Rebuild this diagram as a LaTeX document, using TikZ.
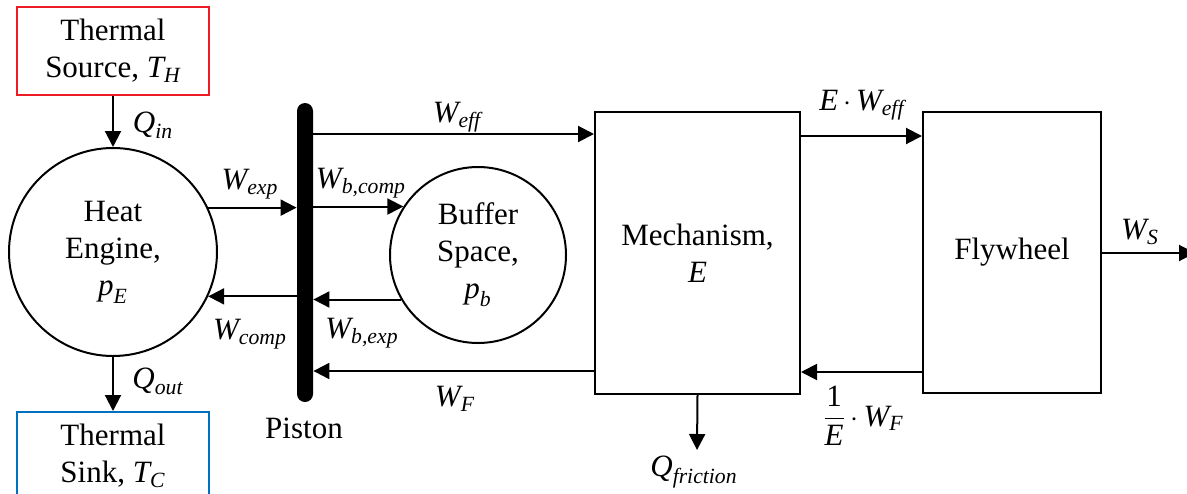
\documentclass[tikz,border=0pt]{standalone}
\usepackage{amsmath}
\usepackage{fontspec}
\setmainfont{Liberation Serif}
\usetikzlibrary{arrows.meta,calc}
\definecolor{srcred}{RGB}{237,28,36}
\definecolor{sinkblue}{RGB}{0,112,192}
\newcommand{\mi}[1]{\textit{#1}}
\begin{document}
\begin{tikzpicture}[x=0.5pt,y=-0.5pt, font=\rmfamily\fontsize{15.5}{18.5}\selectfont,
  box/.style={draw, line width=1pt, inner sep=0pt, align=center},
  circ/.style={draw, circle, line width=1pt, inner sep=0pt, align=center},
  flow/.style={line width=1pt, -{Triangle[length=8pt,width=8pt]}},
  lbl/.style={inner sep=0pt}]
\useasboundingbox (0,0) rectangle (1187,493);
% blocks
\node[box, draw=srcred, minimum width=96pt, minimum height=44pt] (src) at (113,51) {Thermal\\Source, $\mi{T}_{\mi{H}}$};
\node[box, draw=sinkblue, minimum width=96pt, minimum height=44pt] (snk) at (113,456) {Thermal\\Sink, $\mi{T}_{\mi{C}}$};
\node[circ, minimum size=104pt] (he) at (113,252) {Heat\\Engine,\\$\mi{p}_{\mi{E}}$};
\node[circ, minimum size=88pt] (bs) at (478,255) {Buffer\\Space,\\$\mi{p}_{\mi{b}}$};
\node[fill=black, rounded corners=4pt, minimum width=8pt, minimum height=149.5pt, inner sep=0pt] (pis) at (305,252.5) {};
\node[lbl] (pisl) at (304,428) {Piston};
\node[box, minimum width=102.5pt, minimum height=141pt] (mech) at (697.5,253) {Mechanism,\\$\mi{E}$};
\node[box, minimum width=89pt, minimum height=140.5pt] (fly) at (1012,252.5) {Flywheel};
% coordinates for free ends
\coordinate (weff) at ($(mech.north west)+(0,23)$);
\coordinate (eweff) at ($(mech.north east)+(0,25)$);
\coordinate (wfm) at ($(mech.south west)+(0,-24)$);
\coordinate (wff) at ($(fly.south west)+(0,-22)$);
\coordinate (qf) at (697,450);
\coordinate (ws) at (1195,253);
% connectors
\draw[flow] (src.south) -- (he.north);
\draw[flow] (he.south) -- (snk.north);
\draw[flow] (he.25) -- (he.25 -| pis.west);
\draw[flow] (pis.west |- he.-25) -- (he.-25);
\draw[flow] (pis.east |- bs.147) -- (bs.147);
\draw[flow] (bs.210) -- (bs.210 -| pis.east);
\draw[flow] (pis.east |- weff) -- (weff);
\draw[flow] (wfm) -- (wfm -| pis.east);
\draw[flow] (eweff) -- (eweff -| fly.west);
\draw[flow] (wff) -- (wff -| mech.east);
\draw[flow] (mech.south) -- (qf);
\draw[flow] (fly.east |- ws) -- (ws);
% labels
\node[lbl] at (153,125) {$\mi{Q}_{\mi{in}}$};
\node[lbl] at (158,381) {$\mi{Q}_{\mi{out}}$};
\node[lbl] at (250,184) {$\mi{W}_{\mi{exp}}$};
\node[lbl] at (250,334) {$\mi{W}_{\mi{comp}}$};
\node[lbl] at (361,183) {$\mi{W}_{\mi{b,comp}}$};
\node[lbl] at (362,333) {$\mi{W}_{\mi{b,exp}}$};
\node[lbl] at (457,117) {$\mi{W}_{\mi{eff}}$};
\node[lbl] at (455,399) {$\mi{W}_{\mi{F}}$};
\node[lbl] at (862,105) {$\mi{E}\,{\cdot}\,\mi{W}_{\mi{eff}}$};
\node[lbl] at (863,416) {$\dfrac{\text{1}}{\mi{E}}\,{\cdot}\,\mi{W}_{\mi{F}}$};
\node[lbl] at (694,472) {$\mi{Q}_{\mi{friction}}$};
\node[lbl] at (1140,232) {$\mi{W}_{\mi{S}}$};
\end{tikzpicture}
\end{document}
